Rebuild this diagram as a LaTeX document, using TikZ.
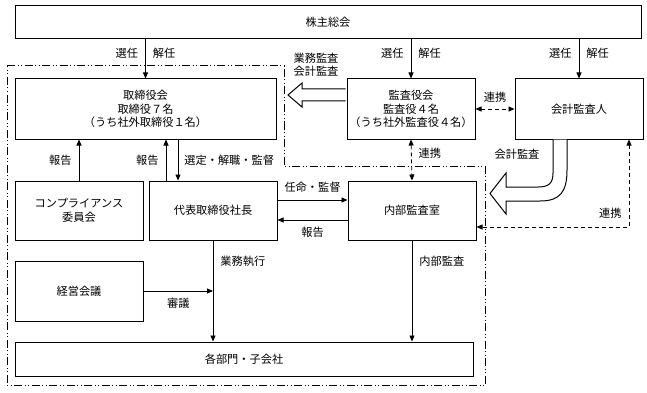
\documentclass[tikz,border=0pt]{standalone}
\usepackage{fontspec}
\newfontfamily\jpfont{Noto Sans CJK JP}
\usetikzlibrary{arrows.meta, positioning}

\begin{document}
\begin{tikzpicture}[
		x=1pt, y=-1pt,
		thick,
		>={Triangle[length=6pt, width=5pt]},
		font=\jpfont\fontsize{11.2}{13.5}\selectfont,
		box/.style={rectangle, draw, line width=1pt, align=center, minimum width=128pt, minimum height=60pt, inner sep=2pt},
		lbl/.style={inner sep=2pt, align=center},
		link/.style={<->, dash pattern=on 4pt off 3pt},
		frame/.style={line width=1pt, dash pattern=on 8pt off 2.5pt on 1pt off 2.5pt on 1pt off 2.5pt},
		hollow/.style={draw, fill=white, line width=1pt, line join=miter}
		]
		\useasboundingbox (0,0) rectangle (647,393);
		
		% Company frame (dash-dot-dot)
		\draw[frame] (7,66) -- (284,66) -- (284,166) -- (485,166) -- (485,385) -- (7,385) -- cycle;
		
		% Top node - General meeting
		\node[box, minimum width=626pt, minimum height=33pt] (share) at (328,22.5) {株主総会};
		
		% Second row
		\node[box, minimum width=261pt] (board) at (145.5,109) {取締役会\\取締役７名\\（うち社外取締役１名）};
		\node[box, right=70pt of board] (auditors) {監査役会\\監査役４名\\（うち社外監査役４名）};
		\node[box, right=39pt of auditors] (acct) {会計監査人};
		
		% Third row
		\node[box, minimum height=59pt, below right=41pt and 0pt of board.south west] (comp) {コンプライアンス\\委員会};
		\node[box, minimum height=59pt, right=5pt of comp] (ceo) {代表取締役社長};
		\node[box, minimum height=59pt, right=70pt of ceo] (internal) {内部監査室};
		
		% Bottom rows
		\node[box, below=20pt of comp] (mgmt) {経営会議};
		\node[box, minimum width=458pt, minimum height=34pt, below right=20pt and 0pt of mgmt.south west] (depts) {各部門・子会社};
		
		% Appointment arrows
		\draw[->] (board.north |- share.south) -- node[lbl, pos=0.35, left=5pt] {選任} node[lbl, pos=0.35, right=5pt] {解任} (board.north);
		\draw[->] (auditors.north |- share.south) -- node[lbl, pos=0.35, left=5pt] {選任} node[lbl, pos=0.35, right=5pt] {解任} (auditors.north);
		\draw[->] (acct.north |- share.south) -- node[lbl, pos=0.35, left=5pt] {選任} node[lbl, pos=0.35, right=5pt] {解任} (acct.north);
		
		% Reports and supervision
		\draw[->] (comp.north) -- node[lbl, left=5pt] {報告} (comp.north |- board.south);
		\draw[->] ([xshift=-47pt]ceo.north) -- node[lbl, left=5pt] {報告} ([xshift=-47pt]ceo.north |- board.south);
		\draw[->] ([xshift=-35pt]ceo.north |- board.south) -- node[lbl, right=4pt] {選定・解職・監督} ([xshift=-35pt]ceo.north);
		\draw[->] ([yshift=10.5pt]ceo.east) -- node[lbl, above=5pt] {任命・監督} ([yshift=10.5pt]internal.west);
		\draw[->] ([yshift=-9.5pt]internal.west) -- node[lbl, below=5pt] {報告} ([yshift=-9.5pt]ceo.east);
		
		% Execution and internal audit
		\draw[->] (ceo.south) -- node[lbl, pos=0.21, right=5pt] {業務執行} (ceo.south |- depts.north);
		\draw[->] (mgmt.east) -- node[lbl, below=5pt] {審議} (mgmt.east -| ceo.south);
		\draw[->] (internal.south) -- node[lbl, pos=0.21, right=5pt] {内部監査} (internal.south |- depts.north);
		
		% Cooperation links
		\draw[link] (auditors.east) -- node[lbl, above=4pt] {連携} (acct.west);
		\draw[link] (auditors.south) -- node[lbl, pos=0.34, right=5pt] {連携} (internal.north);
		\draw[link] ([xshift=50pt]acct.south) |- node[lbl, pos=0.5, above left=6pt and 5pt] {連携} ([yshift=-16.5pt]internal.east);
		
		% Hollow arrows - business / accounting audit
		\draw[hollow] (345.5,89) -- (302,89) -- (302,83) -- (288,95) -- (302,107) -- (302,101) -- (345.5,101);
		\node[lbl] (auditlbl) at (316,65) {業務監査\\会計監査};
		\draw[hollow] (553,139.5) -- (553,173) .. controls (553,183) and (549,187) .. (538,187) -- (506,187) -- (506,173) -- (490,193.5) -- (506,214) -- (506,201) -- (540,201) .. controls (560,201) and (567,192) .. (567,170) -- (567,139.5);
		\node[lbl] (acctlbl) at (517,154) {会計監査};
		
	\end{tikzpicture}
\end{document}
